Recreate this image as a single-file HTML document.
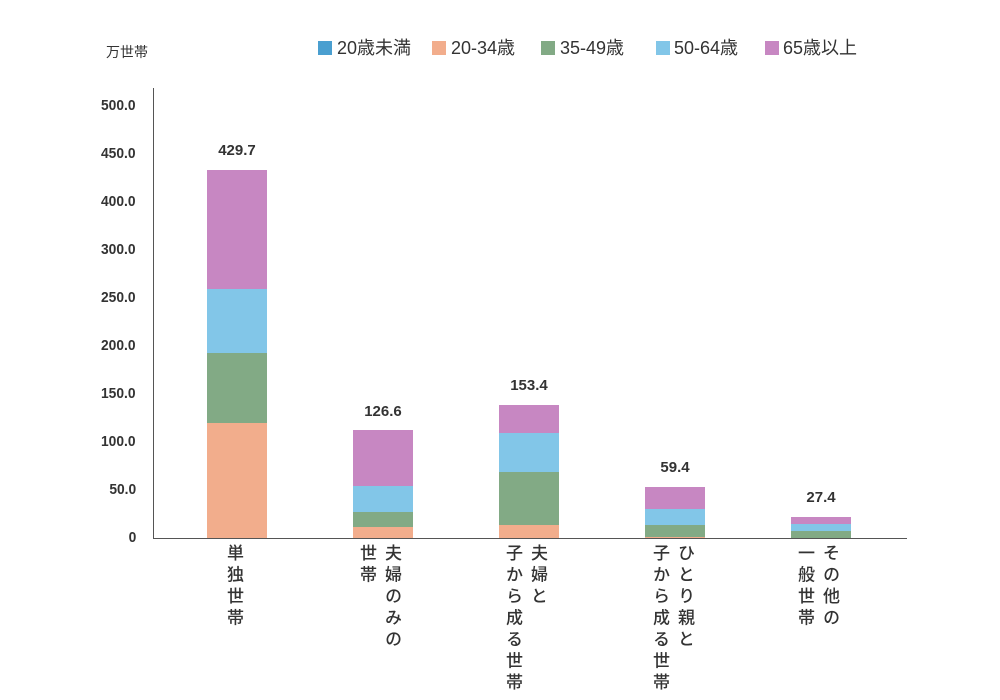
<!DOCTYPE html>
<html><head><meta charset="utf-8"><style>
body{margin:0;width:1000px;height:700px;background:#fff;position:relative;overflow:hidden;font-family:"Liberation Sans","Noto Sans CJK JP",sans-serif;color:#333}
.a{position:absolute}
.yl{position:absolute;right:864px;font-size:15px;font-weight:bold;color:#333;line-height:16px;transform:scaleX(0.92);transform-origin:right}
.val{position:absolute;width:100px;text-align:center;font-size:15px;font-weight:bold;color:#333}
.sq{position:absolute;width:14px;height:14px;top:41px}
.lt{position:absolute;top:37px;font-size:18px;color:#333;line-height:22px}
.v{position:absolute;top:544px;writing-mode:vertical-rl;font-size:17px;letter-spacing:4.5px;line-height:25px;color:#333;font-weight:500}
</style></head><body>
<div class="a" style="left:106px;top:42px;font-size:14px">万世帯</div>
<div class="sq" style="left:318px;background:#4a9fd0"></div><div class="lt" style="left:337px">20歳未満</div>
<div class="sq" style="left:432px;background:#f2ad8c"></div><div class="lt" style="left:451px">20-34歳</div>
<div class="sq" style="left:541px;background:#82aa85"></div><div class="lt" style="left:560px">35-49歳</div>
<div class="sq" style="left:656px;background:#82c6e8"></div><div class="lt" style="left:674px">50-64歳</div>
<div class="sq" style="left:765px;background:#c787c2"></div><div class="lt" style="left:783px">65歳以上</div>

<div class="a" style="left:153px;top:88px;width:1px;height:450px;background:#555"></div>
<div class="a" style="left:153px;top:538px;width:754px;height:1px;background:#555"></div>

<div class="yl" style="top:98px">500.0</div>
<div class="yl" style="top:146px">450.0</div>
<div class="yl" style="top:194px">400.0</div>
<div class="yl" style="top:242px">300.0</div>
<div class="yl" style="top:290px">250.0</div>
<div class="yl" style="top:338px">200.0</div>
<div class="yl" style="top:386px">150.0</div>
<div class="yl" style="top:434px">100.0</div>
<div class="yl" style="top:482px">50.0</div>
<div class="yl" style="top:530px">0</div>

<div class="a" style="left:207px;width:60px;top:170px;height:119px;background:#c787c2"></div>
<div class="a" style="left:207px;width:60px;top:289px;height:64px;background:#82c6e8"></div>
<div class="a" style="left:207px;width:60px;top:353px;height:70px;background:#82aa85"></div>
<div class="a" style="left:207px;width:60px;top:423px;height:115px;background:#f2ad8c"></div>
<div class="val" style="left:187px;top:142px">429.7</div>
<div class="a" style="left:353px;width:60px;top:430px;height:56px;background:#c787c2"></div>
<div class="a" style="left:353px;width:60px;top:486px;height:26px;background:#82c6e8"></div>
<div class="a" style="left:353px;width:60px;top:512px;height:15px;background:#82aa85"></div>
<div class="a" style="left:353px;width:60px;top:527px;height:11px;background:#f2ad8c"></div>
<div class="val" style="left:333px;top:403px">126.6</div>
<div class="a" style="left:499px;width:60px;top:405px;height:28px;background:#c787c2"></div>
<div class="a" style="left:499px;width:60px;top:433px;height:39px;background:#82c6e8"></div>
<div class="a" style="left:499px;width:60px;top:472px;height:53px;background:#82aa85"></div>
<div class="a" style="left:499px;width:60px;top:525px;height:13px;background:#f2ad8c"></div>
<div class="val" style="left:479px;top:377px">153.4</div>
<div class="a" style="left:645px;width:60px;top:487px;height:22px;background:#c787c2"></div>
<div class="a" style="left:645px;width:60px;top:509px;height:16px;background:#82c6e8"></div>
<div class="a" style="left:645px;width:60px;top:525px;height:12px;background:#82aa85"></div>
<div class="a" style="left:645px;width:60px;top:537px;height:1px;background:#f2ad8c"></div>
<div class="val" style="left:625px;top:459px">59.4</div>
<div class="a" style="left:791px;width:60px;top:517px;height:7px;background:#c787c2"></div>
<div class="a" style="left:791px;width:60px;top:524px;height:7px;background:#82c6e8"></div>
<div class="a" style="left:791px;width:60px;top:531px;height:7px;background:#82aa85"></div>
<div class="val" style="left:771px;top:489px">27.4</div>

<div class="v" style="left:221px">単独世帯</div>
<div class="v" style="left:354px">夫婦のみの<br>世帯</div>
<div class="v" style="left:500px">夫婦と<br>子から成る世帯</div>
<div class="v" style="left:647px">ひとり親と<br>子から成る世帯</div>
<div class="v" style="left:792px">その他の<br>一般世帯</div>
</body></html>
